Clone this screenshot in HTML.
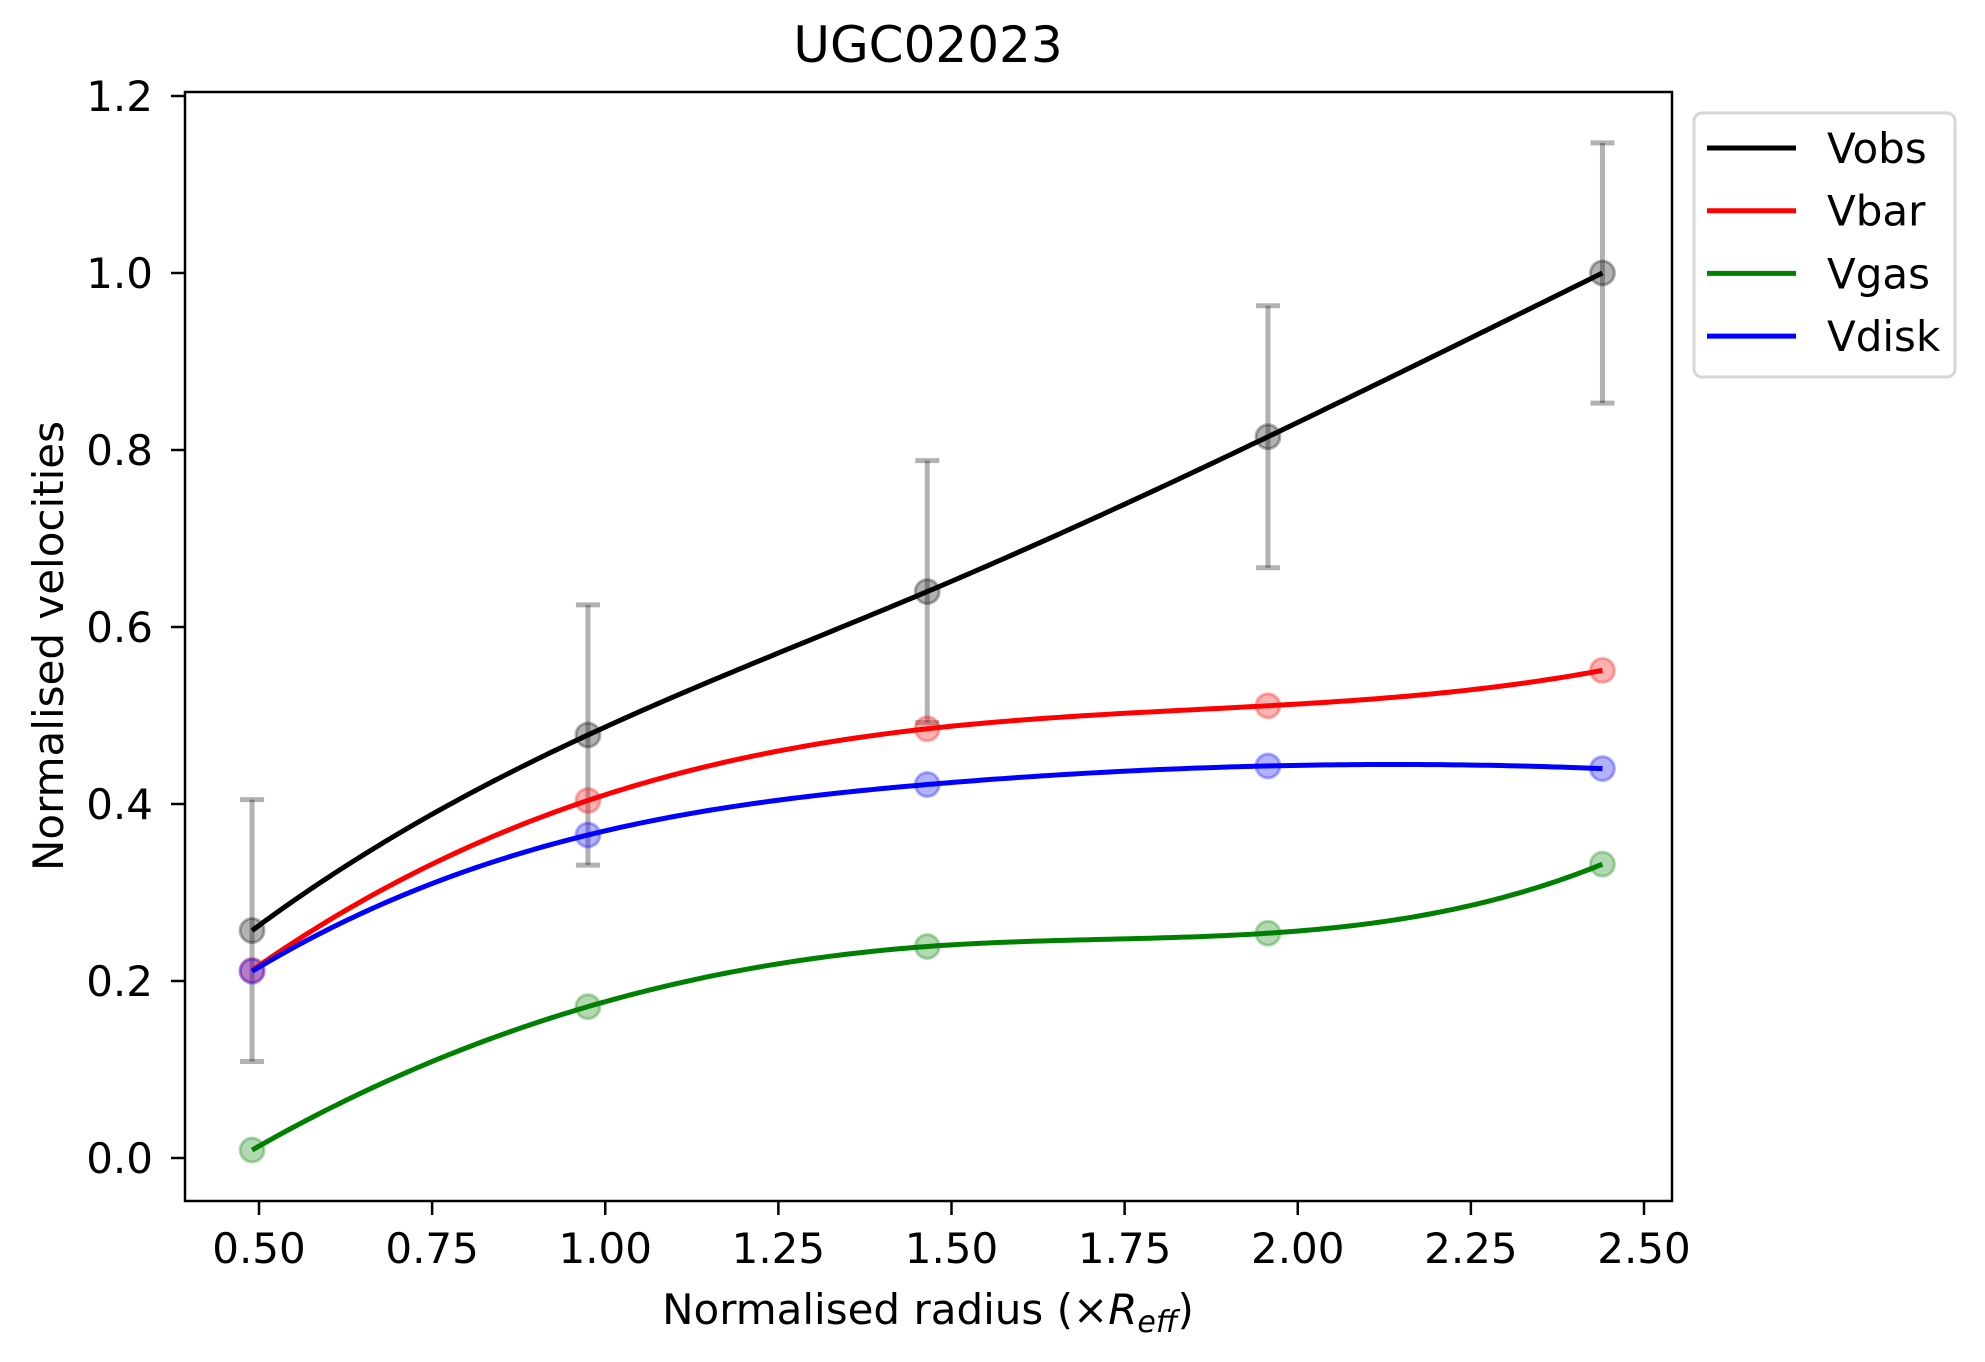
<!DOCTYPE html>
<html><head><meta charset="utf-8"><style>
html,body{margin:0;padding:0;background:#fff}
svg{display:block;font-family:"DejaVu Sans","Liberation Sans",sans-serif}
</style></head><body>
<svg id="chart" width="1985" height="1362" viewBox="0 0 1985 1362">
<rect width="1985" height="1362" fill="#fff"/>
<text x="928" y="62" font-size="50" text-anchor="middle">UGC02023</text>
<g id="series"></g>
<rect x="185" y="92" width="1487" height="1109" fill="none" stroke="#000" stroke-width="2.5"/>
<g id="ticks"></g>
<text x="928" y="1324" font-size="42" text-anchor="middle">Normalised radius (×<tspan font-style="italic">R</tspan><tspan font-style="italic" font-size="30" dy="8">eff</tspan><tspan dy="-8">)</tspan></text>
<text transform="translate(63,646) rotate(-90)" font-size="42" text-anchor="middle">Normalised velocities</text>
<g>
<rect x="1694" y="113" width="261" height="264" rx="8" fill="#fff" stroke="#d6d6d6" stroke-width="3"/>
<g id="legend"></g>
</g>
</svg>
<script>
const xs = [0.49, 0.975, 1.465, 1.957, 2.44];
const vobs = [0.257, 0.478, 0.640, 0.815, 1.000];
const vobsErr = [0.148, 0.147, 0.148, 0.148, 0.147];
const vbar = [0.212, 0.404, 0.485, 0.511, 0.551];
const vgas = [0.009, 0.171, 0.239, 0.254, 0.332];
const vdisk = [0.211, 0.365, 0.422, 0.443, 0.440];
const xTicks = [0.5, 0.75, 1.0, 1.25, 1.5, 1.75, 2.0, 2.25, 2.5];
const xTickLabels = ["0.50","0.75","1.00","1.25","1.50","1.75","2.00","2.25","2.50"];
const yTicks = [0.0, 0.2, 0.4, 0.6, 0.8, 1.0, 1.2];
const yTickLabels = ["0.0","0.2","0.4","0.6","0.8","1.0","1.2"];
const seriesNames = ["Vobs","Vbar","Vgas","Vdisk"];

const NS = "http://www.w3.org/2000/svg";
function X(v){return 259 + (v-0.5)*692.5;}
function Y(v){return 1158 - v*885;}
function mk(tag, attrs, parent){const e=document.createElementNS(NS,tag);for(const k in attrs)e.setAttribute(k,attrs[k]);parent.appendChild(e);return e;}

const ticks=document.getElementById('ticks');
xTicks.forEach((t,i)=>{
  const l=mk('line',{x1:X(t),x2:X(t),y1:1201,y2:1215,stroke:'#000','stroke-width':2.5},ticks);
  
  
  const tx=mk('text',{x:X(t),y:1263,'font-size':42,'text-anchor':'middle'},ticks);
  tx.textContent=xTickLabels[i];
  
  
});
yTicks.forEach((t,i)=>{
  const l=mk('line',{x1:171,x2:185,y1:Y(t),y2:Y(t),stroke:'#000','stroke-width':2.5},ticks);
  
  
  const tx=mk('text',{x:153,y:Y(t)+15,'font-size':42,'text-anchor':'end'},ticks);
  tx.textContent=yTickLabels[i];
  
  
});

// not-a-knot cubic spline
function spline(x,y){
  const n=x.length,h=[];
  for(let i=0;i<n-1;i++)h.push(x[i+1]-x[i]);
  const A=[],B=[];
  for(let i=0;i<n;i++){A.push(new Array(n).fill(0));B.push(0);}
  A[0][0]=-1/h[0];A[0][1]=1/h[0]+1/h[1];A[0][2]=-1/h[1];
  for(let i=1;i<n-1;i++){A[i][i-1]=h[i-1];A[i][i]=2*(h[i-1]+h[i]);A[i][i+1]=h[i];B[i]=6*((y[i+1]-y[i])/h[i]-(y[i]-y[i-1])/h[i-1]);}
  const m=n-1;A[m][m-2]=-1/h[m-2];A[m][m-1]=1/h[m-2]+1/h[m-1];A[m][m]=-1/h[m-1];
  for(let c=0;c<n;c++){let p=c;for(let r=c+1;r<n;r++)if(Math.abs(A[r][c])>Math.abs(A[p][c]))p=r;
    [A[c],A[p]]=[A[p],A[c]];[B[c],B[p]]=[B[p],B[c]];
    for(let r=0;r<n;r++){if(r===c)continue;const f=A[r][c]/A[c][c];for(let k=c;k<n;k++)A[r][k]-=f*A[c][k];B[r]-=f*B[c];}}
  const M=B.map((b,i)=>b/A[i][i]);
  return t=>{let j=0;while(j<n-2&&t>x[j+1])j++;const a=x[j+1]-t,b=t-x[j],hh=h[j];
    return M[j]*a*a*a/(6*hh)+M[j+1]*b*b*b/(6*hh)+(y[j]/hh-M[j]*hh/6)*a+(y[j+1]/hh-M[j+1]*hh/6)*b;};
}

const g=document.getElementById('series');
xs.forEach((x,i)=>{
  const eg=mk('g',{stroke:'#000','stroke-opacity':0.3,'stroke-width':5},g);
  
  
  mk('line',{x1:X(x),x2:X(x),y1:Y(vobs[i]-vobsErr[i]),y2:Y(vobs[i]+vobsErr[i])},eg);
  mk('line',{x1:X(x)-12,x2:X(x)+12,y1:Y(vobs[i]-vobsErr[i]),y2:Y(vobs[i]-vobsErr[i])},eg);
  mk('line',{x1:X(x)-12,x2:X(x)+12,y1:Y(vobs[i]+vobsErr[i]),y2:Y(vobs[i]+vobsErr[i])},eg);
});
const defs=[[vobs,'#000','vobs'],[vbar,'#ff0000','vbar'],[vgas,'#008000','vgas'],[vdisk,'#0000ff','vdisk']];
defs.forEach(([ys,col,nm])=>{
  xs.forEach((x,i)=>{
    const c=mk('circle',{cx:X(x),cy:Y(ys[i]),r:12,fill:col,'fill-opacity':0.3,stroke:col,'stroke-opacity':0.3,'stroke-width':3},g);
    
    
  });
});
defs.forEach(([ys,col,nm])=>{
  const f=spline(xs,ys);let d='';
  const N=200;
  for(let k=0;k<=N;k++){const t=xs[0]+(xs[xs.length-1]-xs[0])*k/N;d+=(k?'L':'M')+X(t).toFixed(2)+','+Y(f(t)).toFixed(2);}
  const p=mk('path',{d:d,fill:'none',stroke:col,'stroke-width':5,'stroke-linejoin':'round'},g);
  
  
});

const lg=document.getElementById('legend');
const lcol=['#000','#ff0000','#008000','#0000ff'];
seriesNames.forEach((n,i)=>{
  const y=148+i*62.7;
  const l=mk('line',{x1:1707,x2:1796,y1:y,y2:y,stroke:lcol[i],'stroke-width':5},lg);
  
  
  const t=mk('text',{x:1827,y:y+15,'font-size':42},lg);
  t.textContent=n;
  
  
});
</script>
</body></html>
